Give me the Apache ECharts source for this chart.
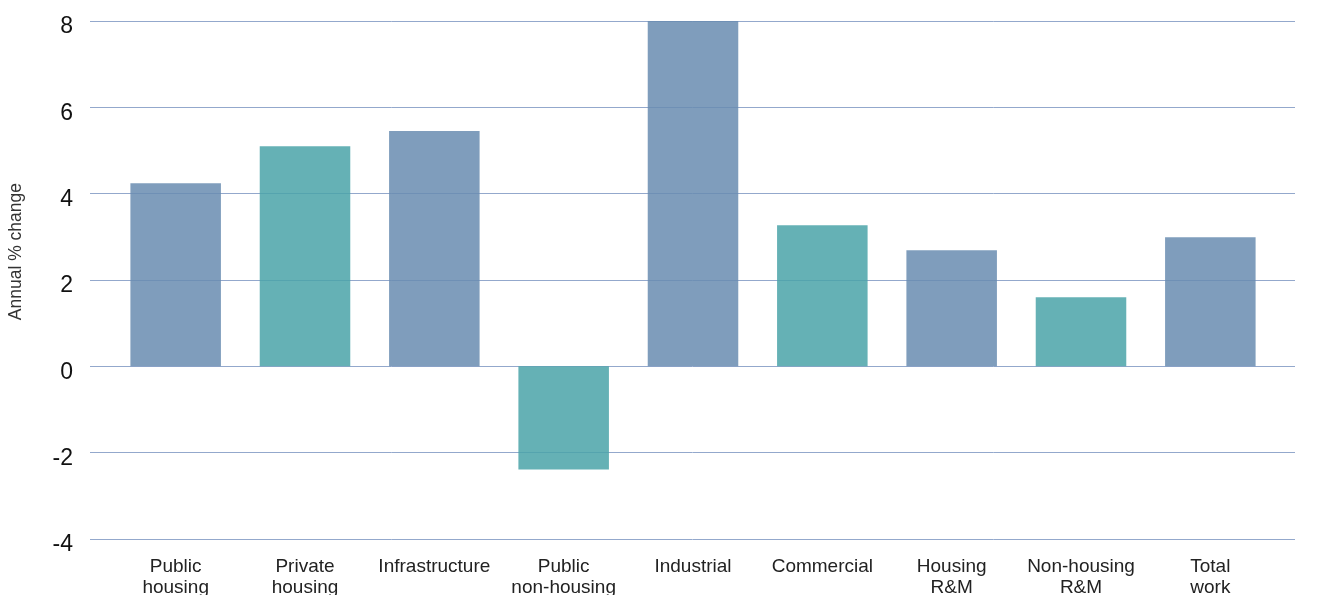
<!DOCTYPE html>
<html>
<head>
<meta charset="utf-8">
<script src="https://cdn.jsdelivr.net/npm/echarts@6/dist/echarts.min.js"></script>
<style>
  html, body { margin: 0; padding: 0; background: #fff; }
  #chart { width: 1324px; height: 595px; }
</style>
</head>
<body>
<div id="chart"></div>
<script>
// categories and values
const categories = ['Public\nhousing', 'Private\nhousing', 'Infrastructure', 'Public\nnon-housing',
  'Industrial', 'Commercial', 'Housing\nR&M', 'Non-housing\nR&M', 'Total\nwork'];
const changes = [4.24, 5.1, 5.45, -2.39, 8.0, 3.27, 2.69, 1.6, 2.99];
const yTicks = [-4, -2, 0, 2, 4, 6, 8];

const blue = 'rgba(104,140,176,0.85)';
const teal = 'rgba(74,163,168,0.85)';
const yMin = yTicks[0], yMax = yTicks[yTicks.length - 1], yStep = yTicks[1] - yTicks[0];

const chart = echarts.init(document.getElementById('chart'));

chart.setOption({
  animation: false,
  // grid 0 carries the long gridlines and tick labels, grid 1 the bars
  grid: [
    { left: 90, right: 29, top: 21, bottom: 56, outerBoundsMode: 'none', containLabel: false },
    { left: 111, right: 49, top: 21, bottom: 56, outerBoundsMode: 'none', containLabel: false }
  ],
  graphic: [{
    type: 'text',
    left: 7,
    top: 183,
    rotation: Math.PI / 2,
    style: { text: 'Annual % change', font: '17.5px "Liberation Sans", Arial', fill: '#333' }
  }],
  xAxis: [
    { type: 'value', gridIndex: 0, show: false, min: 0, max: 1 },
    {
      type: 'category', gridIndex: 1, data: categories,
      axisLine: { show: false }, axisTick: { show: false },
      axisLabel: {
        interval: 0, margin: 17, color: '#222',
        fontFamily: '"Liberation Sans", Arial', fontSize: 19, lineHeight: 21
      }
    }
  ],
  yAxis: [
    {
      type: 'value', gridIndex: 0, min: yMin, max: yMax, interval: yStep,
      axisLine: { show: false }, axisTick: { show: false },
      axisLabel: {
        margin: 17,
        formatter: v => '{n|' + v + '}',
        rich: {
          n: {
            color: '#111', fontFamily: '"Liberation Sans", Arial', fontSize: 23,
            padding: [12, 0, 0, 0]
          }
        }
      },
      splitLine: { lineStyle: { color: '#93a8cc', width: 1 } }
    },
    {
      type: 'value', gridIndex: 1, min: yMin, max: yMax, interval: yStep,
      show: false, splitLine: { show: false }
    }
  ],
  series: [{
    type: 'bar',
    xAxisIndex: 1,
    yAxisIndex: 1,
    data: changes,
    barWidth: '70%',
    itemStyle: { color: p => (p.dataIndex % 2 ? teal : blue) }
  }]
});
</script>
</body>
</html>
